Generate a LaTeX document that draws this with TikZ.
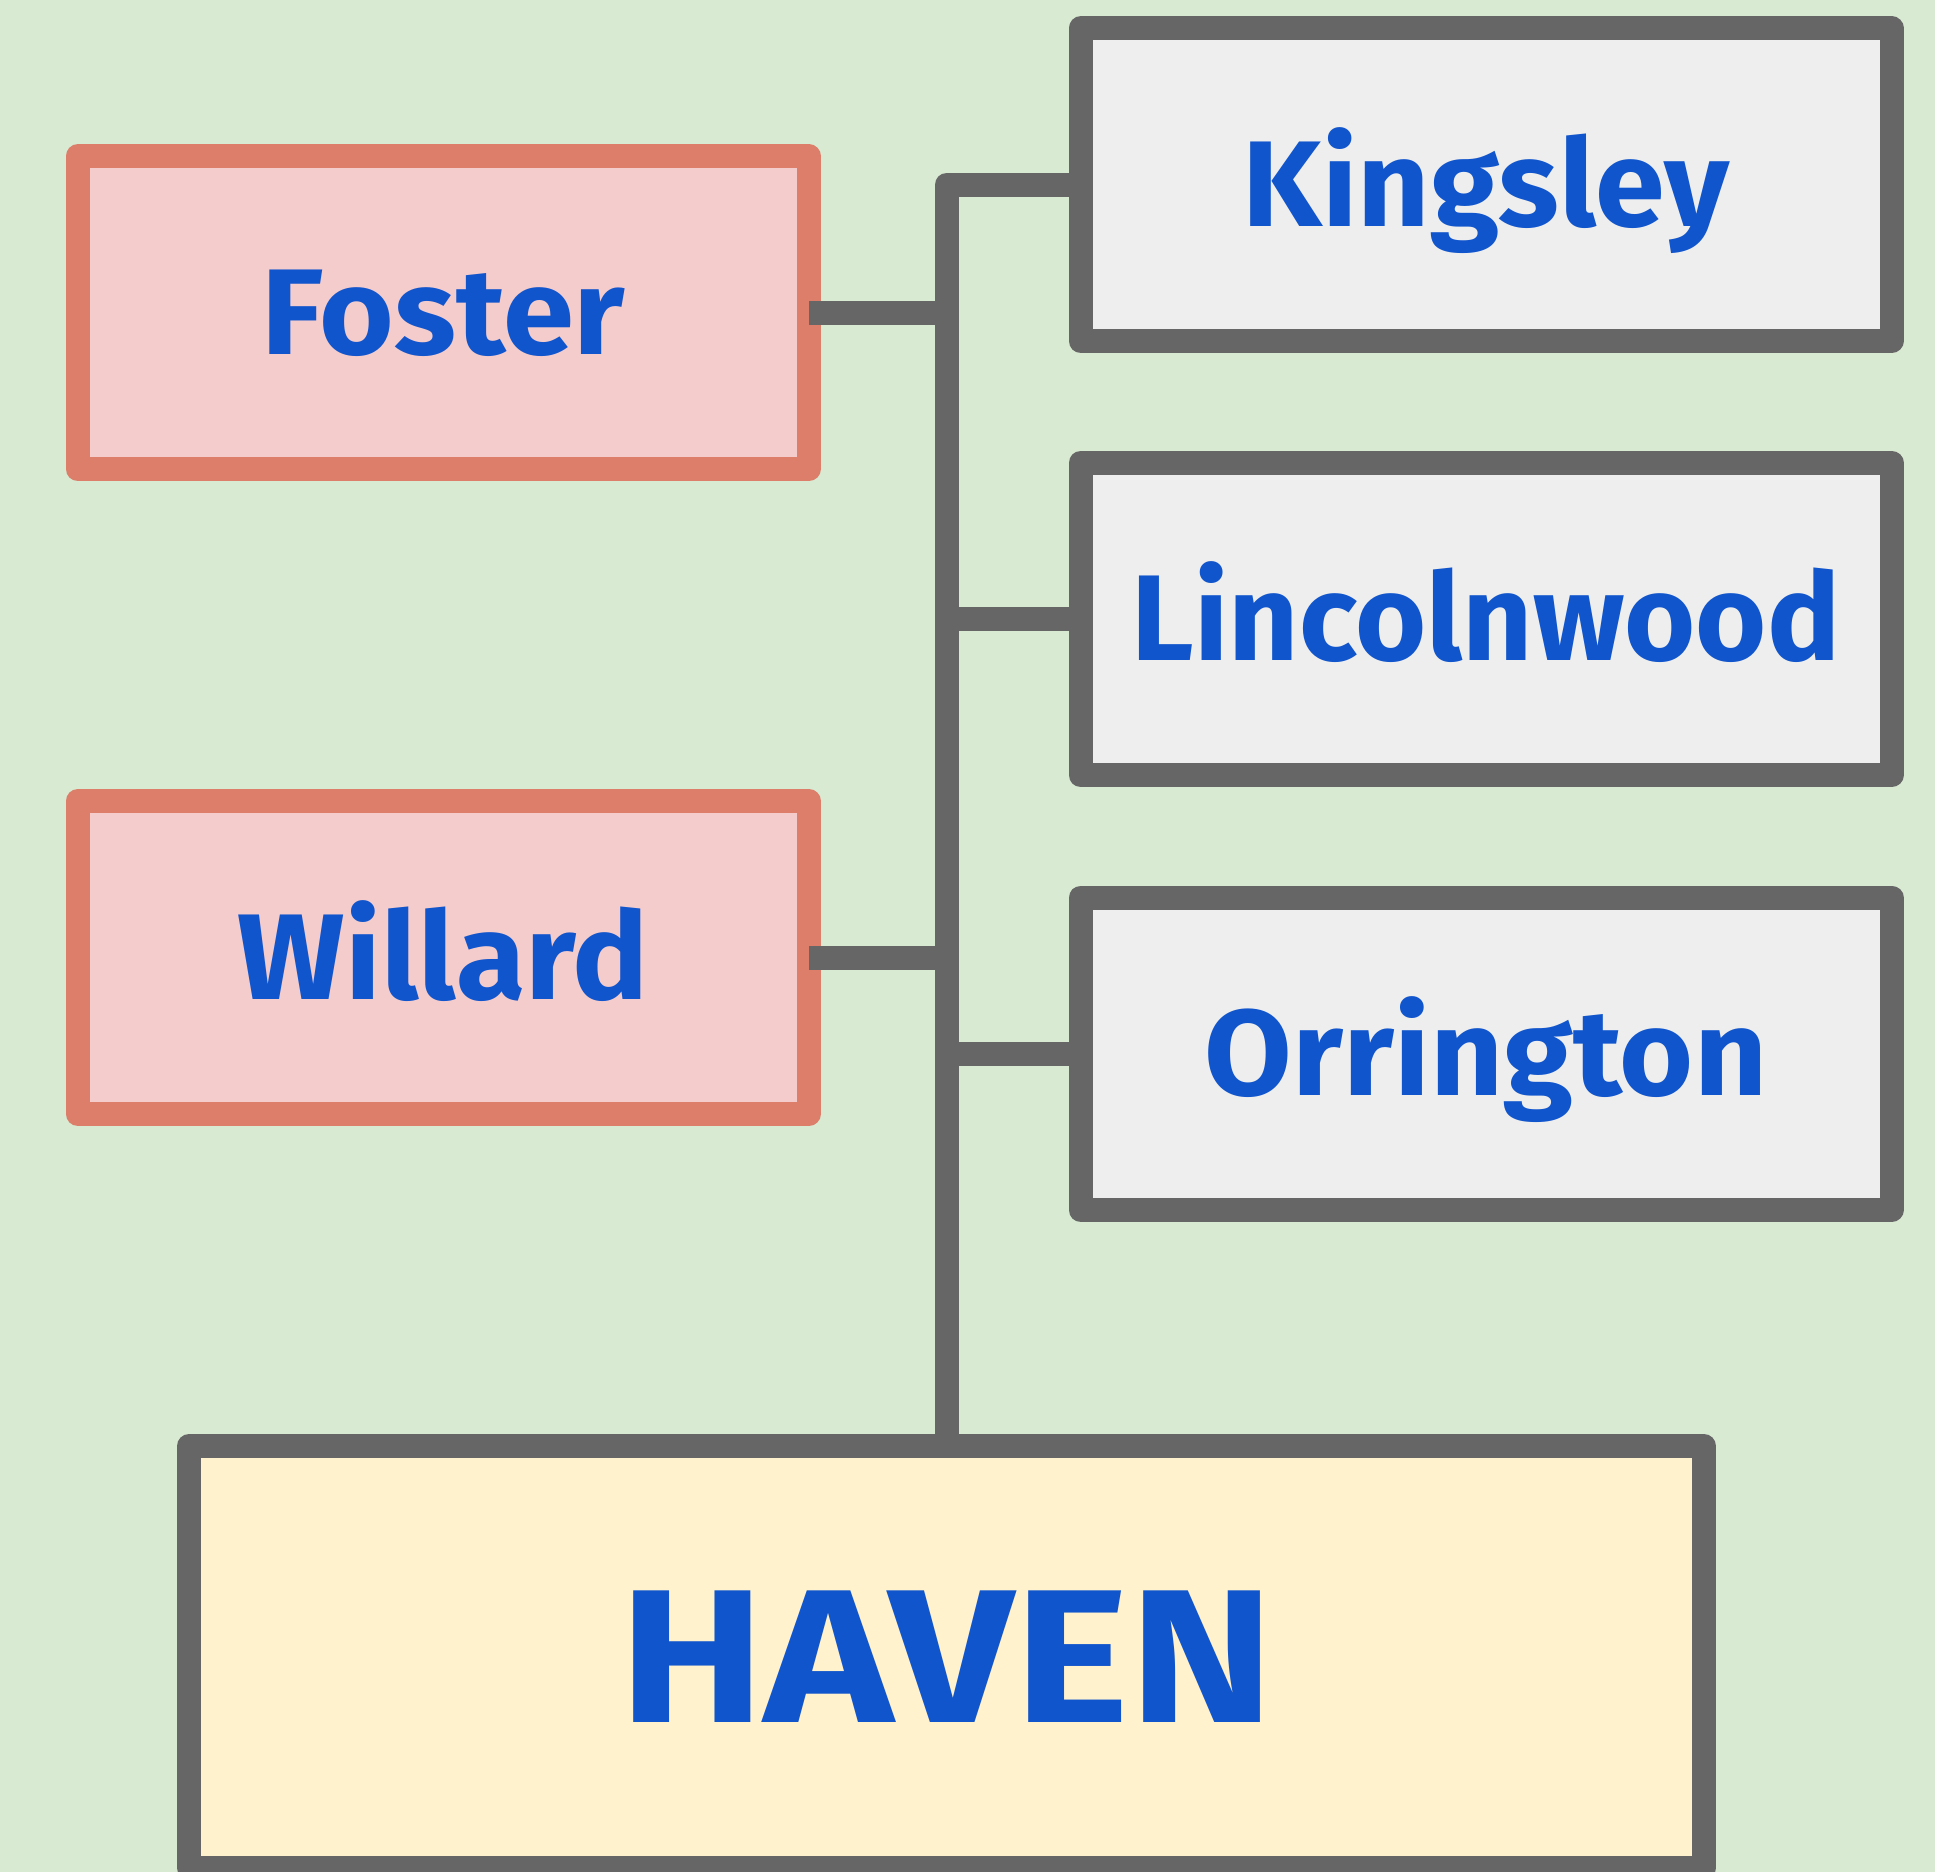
\documentclass[tikz,border=0pt]{standalone}
\usepackage{fontspec}
\setmainfont{Fira Sans}
\definecolor{bg}{HTML}{D9EAD3}
\definecolor{txtblue}{HTML}{1155CC}
\definecolor{pinkfill}{HTML}{F4CCCC}
\definecolor{pinkline}{HTML}{DD7E6B}
\definecolor{grayfill}{HTML}{EEEEEE}
\definecolor{grayline}{HTML}{666666}
\definecolor{havenfill}{HTML}{FFF2CC}
\begin{document}
\begin{tikzpicture}[x=0.5pt,y=-0.5pt,
  box/.style={draw, line width=12pt, line join=round, inner sep=0pt, outer sep=0pt,
    minimum width=405.5pt, minimum height=156.25pt, text=txtblue,
    font=\bfseries\fontsize{61}{61}\selectfont, text height=42pt, text depth=0pt},
  leftbox/.style={box, draw=pinkline, fill=pinkfill, minimum width=365.75pt},
  rightbox/.style={box, draw=grayline, fill=grayfill},
  havenbox/.style={box, draw=grayline, fill=havenfill, minimum width=757.5pt,
    minimum height=211pt, font=\bfseries\fontsize{95}{95}\selectfont, text height=65.5pt},
  conn/.style={draw=grayline, line width=12pt, line join=round}]
\fill[bg] (0,0) rectangle (1935,1872);
\useasboundingbox (0,0) rectangle (1935,1872);
\node[leftbox] (foster) at (443.25,312.75) {\scalebox{1.05}[1]{Foster}};
\node[leftbox] (willard) at (443.25,957.5) {\scalebox{1.04}[1]{Willard}};
\node[rightbox] (kingsley) at (1486,184.75) {\scalebox{1.03}[1]{Kingsley}};
\node[rightbox] (lincolnwood) at (1486,619) {Lincolnwood};
\node[rightbox] (orrington) at (1486,1053.75) {\scalebox{1.04}[1]{Orrington}};
\node[havenbox] (haven) at (946.5,1657) {\scalebox{1.15}[1]{HAVEN}};
\draw[conn] (kingsley.west) -| (haven.north);
\draw[conn] (foster.east) -- (foster.east -| haven.north);
\draw[conn] (willard.east) -- (willard.east -| haven.north);
\draw[conn] (lincolnwood.west) -- (lincolnwood.west -| haven.north);
\draw[conn] (orrington.west) -- (orrington.west -| haven.north);
\end{tikzpicture}
\end{document}
